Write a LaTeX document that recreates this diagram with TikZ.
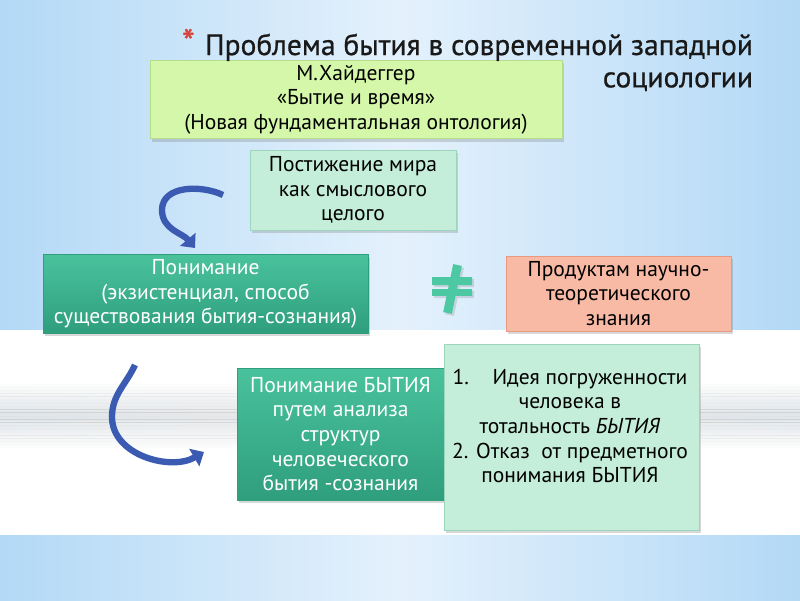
\documentclass[tikz,border=0pt]{standalone}
\usepackage{fontspec}
\setmainfont{PT Sans}
\newfontfamily\headfont[FakeBold=0.7]{PT Sans}
\usetikzlibrary{positioning}
\usetikzlibrary{shadows}
\usetikzlibrary{arrows.meta}

\definecolor{bgblue}{HTML}{B3D9F6}
\definecolor{bglight}{HTML}{E4F1FC}
\definecolor{bandblue}{HTML}{A9D3F3}
\definecolor{limebox}{HTML}{D4F7A9}
\definecolor{limeline}{HTML}{B4DE8C}
\definecolor{mintbox}{HTML}{C4EDDA}
\definecolor{mintline}{HTML}{9BD6BC}
\definecolor{tealtop}{HTML}{49C29C}
\definecolor{tealbot}{HTML}{2F9E7C}
\definecolor{salmon}{HTML}{F9BAA5}
\definecolor{salmonline}{HTML}{E8997F}
\definecolor{arrowblue}{HTML}{3B5BB2}
\definecolor{neqteal}{HTML}{4CC9A3}
\definecolor{starred}{HTML}{D8433B}

\begin{document}
\begin{tikzpicture}[
    box/.style={draw, line width=0.6pt, align=center, font=\fontsize{15.3}{17.5}\selectfont,
      drop shadow={shadow xshift=1.5pt, shadow yshift=-2pt, opacity=.3}},
    tealbox/.style={box, draw=tealbot, top color=tealtop, bottom color=tealbot, text=white},
    mintbox/.style={box, draw=mintline, fill=mintbox},
    bendarrow/.style={draw=arrowblue, line width=4.5pt, -{Triangle[length=8pt,width=14pt]}}
  ]
            \useasboundingbox (0,0) rectangle (20,15);
            \fill[left color=bgblue, right color=bgblue, middle color=bglight] (0,0) rectangle (20,15);
            \fill[white] (0,1.625) rectangle (20,6.75);
            \foreach \k in {0,...,9}
              {
              \fill[left color=bandblue, right color=bandblue, middle color=white, opacity=0.1*(10-\k)*0.09]
                (0,4.6+0.08*\k) rectangle (20,4.6+0.08*\k+0.09);
              \fill[left color=bandblue, right color=bandblue, middle color=white, opacity=0.1*(10-\k)*0.09]
                (0,4.6-0.08*\k) rectangle (20,4.6-0.08*\k-0.09);
              }

            \node[box, draw=limeline, fill=limebox, minimum width=10.3cm, minimum height=1.875cm] (heid) at (8.9,12.51)
              {М.Хайдеггер\\«Бытие и время»\\(Новая фундаментальная онтология)};
            \node[mintbox, minimum width=5.15cm, minimum height=2cm] (world) at (8.825,10.25)
              {Постижение мира\\как смыслового\\целого};
            \node[tealbox, minimum width=8.125cm, minimum height=1.9cm] (underst) at (5.1375,7.65)
              {Понимание\\(экзистенциал, способ\\существования бытия-сознания)};
            \node[box, draw=salmonline, fill=salmon, minimum width=5.625cm, minimum height=1.875cm] (science) at (15.4625,7.6625)
              {Продуктам научно-\\теоретического\\знания};
            \node[tealbox, minimum width=5.175cm, minimum height=3.3cm] (analysis) at (8.5125,4.15)
              {Понимание БЫТИЯ\\путем анализа\\структур\\человеческого\\бытия -сознания};
            \node[mintbox, minimum width=6.375cm, minimum height=4.65cm] (ideas) at (14.2875,4.075) {};
            \node[align=center, font=\fontsize{15.3}{17.5}\selectfont] (ideatext) at (14.25,4.35)
              {1.\hspace{1.1em}Идея погруженности\\человека в\\тотальность \textit{БЫТИЯ}\\2. Отказ\ \ от предметного\\понимания БЫТИЯ};

            \node[anchor=east, align=right, font=\headfont\fontsize{21}{23}\selectfont, text=black!90] (title) at (18.95,13.5)
              {\textcolor{starred}{\fontsize{26}{26}\selectfont*}\hspace{0.35em}Проблема бытия в современной западной\\ социологии};

            \fill[neqteal, drop shadow={shadow xshift=1.5pt, shadow yshift=-1.5pt, opacity=.25}]
              (10.8,7.875) rectangle (11.8,8.075)
              (10.8,7.6) rectangle (11.8,7.775)
              (11.08,7.1975) -- (11.33,8.3975) -- (11.545,8.3525) -- (11.295,7.1525) -- cycle;

            \coordinate (up start) at (5.575,10.125);
            \coordinate (up left) at (4.05,9.75);
            \coordinate (up end) at (4.875,8.8);
            \draw[bendarrow] (up start) to[out=155,in=90] (up left) to[out=-90,in=130] (up end);

            \coordinate (low start) at (3.375,5.875);
            \coordinate (low left) at (2.8,4.575);
            \coordinate (low end) at (5.1,3.7);
            \draw[bendarrow] (low start) to[out=-115,in=90] (low left) to[out=-90,in=-150] (low end);
        \end{tikzpicture}
\end{document}
